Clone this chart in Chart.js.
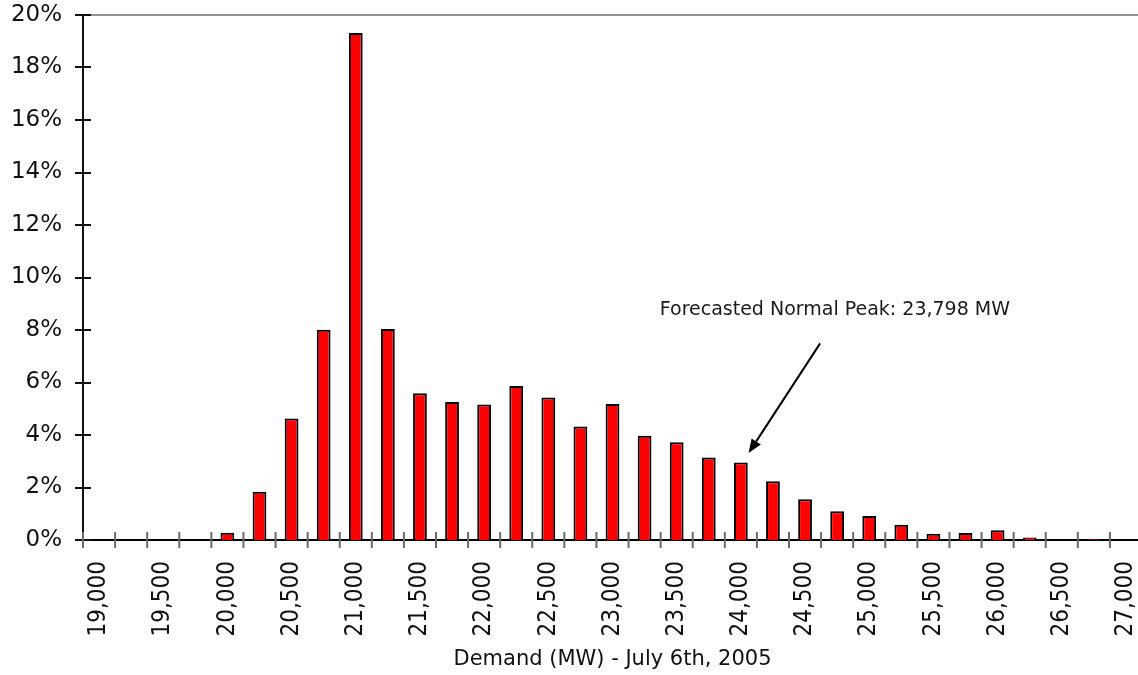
<!DOCTYPE html>
<html>
<head>
<meta charset="utf-8">
<title>Demand distribution - July 6th, 2005</title>
<script src="https://cdn.jsdelivr.net/npm/chart.js@4/dist/chart.umd.min.js"></script>
<style>
  html, body { margin: 0; padding: 0; background: #ffffff; overflow: hidden; }
  #wrap { position: absolute; left: 0; top: 0; width: 1142px; height: 675px; }
</style>
</head>
<body>
<div id="wrap"><canvas id="chart" width="1142" height="675"></canvas></div>
<script>
// Demand bins (MW), one bar per 250 MW bin
const demandBins = [
  19000, 19250, 19500, 19750, 20000, 20250, 20500, 20750,
  21000, 21250, 21500, 21750, 22000, 22250, 22500, 22750,
  23000, 23250, 23500, 23750, 24000, 24250, 24500, 24750,
  25000, 25250, 25500, 25750, 26000, 26250, 26500, 26750,
  27000
];

// Share of outcomes in each bin (%)
const sharePct = [
  0, 0, 0, 0, 0.28, 1.84, 4.63, 8.01,
  19.31, 8.04, 5.59, 5.26, 5.16, 5.87, 5.43, 4.32,
  5.18, 3.97, 3.72, 3.14, 2.95, 2.24, 1.55, 1.10,
  0.91, 0.58, 0.24, 0.27, 0.37, 0.10, 0, 0.04,
  0
];

// Y axis ticks (%)
const yTicksPct = [0, 2, 4, 6, 8, 10, 12, 14, 16, 18, 20];

const axisTitle = 'Demand (MW) - July 6th, 2005';

// Callout for the forecasted normal peak (positions in axis units: bin index, %)
const peakNote = 'Forecasted Normal Peak: 23,798 MW';
const peakNoteAt = { x: 22.93, y: 8.76 };
const peakArrowFrom = { x: 22.47, y: 7.49 };
const peakArrowTo = { x: 20.24, y: 3.31 };

const fmtThousands = v => v.toLocaleString('en-US');

// Tick marks crossing both axes, top frame line and the peak callout
const decorations = {
  id: 'decorations',
  afterDatasetsDraw(chart) {
    const { ctx, chartArea: a } = chart;
    const xs = chart.scales.x, ys = chart.scales.y;
    ctx.save();

    // top frame line
    ctx.strokeStyle = '#8f8f8f';
    ctx.lineWidth = 2;
    ctx.beginPath();
    ctx.moveTo(a.left, ys.getPixelForValue(20));
    ctx.lineTo(a.right + 2, ys.getPixelForValue(20));
    ctx.stroke();

    // y tick marks
    ctx.strokeStyle = '#111111';
    ctx.lineWidth = 2;
    yTicksPct.forEach(v => {
      const y = Math.round(ys.getPixelForValue(v));
      ctx.beginPath();
      ctx.moveTo(a.left - 8, y);
      ctx.lineTo(a.left + 8, y);
      ctx.stroke();
    });

    // x tick marks at bin boundaries
    ctx.strokeStyle = '#6a6a6a';
    for (let i = 0; i <= demandBins.length; i++) {
      const x = xs.getPixelForValue(i - 0.5);
      ctx.beginPath();
      ctx.moveTo(x, a.bottom - 8);
      ctx.lineTo(x, a.bottom + 8);
      ctx.stroke();
    }

    // callout text
    ctx.fillStyle = '#1a1a1a';
    ctx.font = '19px "DejaVu Sans"';
    ctx.textAlign = 'center';
    ctx.textBaseline = 'middle';
    ctx.fillText(peakNote, xs.getPixelForValue(peakNoteAt.x), ys.getPixelForValue(peakNoteAt.y));

    // callout arrow
    const x0 = xs.getPixelForValue(peakArrowFrom.x), y0 = ys.getPixelForValue(peakArrowFrom.y);
    const x1 = xs.getPixelForValue(peakArrowTo.x), y1 = ys.getPixelForValue(peakArrowTo.y);
    const ang = Math.atan2(y1 - y0, x1 - x0);
    const headLen = 14, headHalf = 5.5;
    const bx = x1 - headLen * Math.cos(ang), by = y1 - headLen * Math.sin(ang);
    ctx.strokeStyle = '#000000';
    ctx.lineWidth = 2;
    ctx.beginPath();
    ctx.moveTo(x0, y0);
    ctx.lineTo(bx, by);
    ctx.stroke();
    ctx.fillStyle = '#000000';
    ctx.beginPath();
    ctx.moveTo(x1, y1);
    ctx.lineTo(bx + headHalf * Math.sin(ang), by - headHalf * Math.cos(ang));
    ctx.lineTo(bx - headHalf * Math.sin(ang), by + headHalf * Math.cos(ang));
    ctx.closePath();
    ctx.fill();

    ctx.restore();
  }
};

new Chart(document.getElementById('chart'), {
  type: 'bar',
  data: {
    labels: demandBins.map(fmtThousands),
    datasets: [{
      data: sharePct,
      backgroundColor: '#ff0000',
      borderColor: '#000000',
      borderWidth: 2,
      borderSkipped: 'bottom',
      categoryPercentage: 1,
      barPercentage: 0.43
    }]
  },
  options: {
    responsive: false,
    devicePixelRatio: 1,
    animation: false,
    layout: { padding: { left: 0, right: 0, top: 15, bottom: 0 } },
    plugins: { legend: { display: false }, tooltip: { enabled: false } },
    scales: {
      x: {
        type: 'category',
        offset: true,
        grid: { display: false, drawTicks: false },
        border: { display: true, color: '#000000', width: 2 },
        ticks: {
          autoSkip: false,
          minRotation: 90,
          maxRotation: 90,
          padding: 21,
          color: '#111111',
          font: { family: '"DejaVu Sans Condensed", "DejaVu Sans"', size: 24 },
          callback: (val, i) => (i % 2 === 0 ? fmtThousands(demandBins[i]) : '')
        },
        title: {
          display: true,
          text: axisTitle,
          color: '#111111',
          font: { family: '"DejaVu Sans"', size: 21 },
          padding: { top: 0, bottom: 3 }
        },
        afterFit: s => { s.height = 135; s.paddingLeft = 0; s.paddingRight = 0; }
      },
      y: {
        min: 0,
        max: 20,
        afterBuildTicks: s => { s.ticks = yTicksPct.map(v => ({ value: v })); },
        grid: { display: false, drawTicks: false },
        border: { display: true, color: '#111111', width: 2 },
        ticks: {
          padding: 21,
          color: '#111111',
          font: { family: '"DejaVu Sans"', size: 23 },
          callback: v => v + '%'
        },
        afterFit: s => { s.width = 83; s.paddingTop = 0; s.paddingBottom = 0; }
      }
    }
  },
  plugins: [decorations]
});
</script>
</body>
</html>
